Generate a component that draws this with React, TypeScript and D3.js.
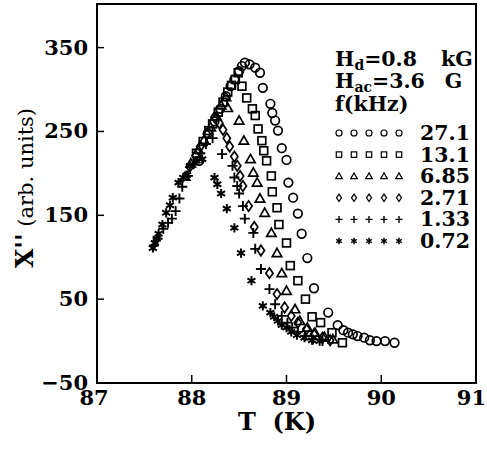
import React from "react";
import * as d3 from "d3";

const W = 487;
const H = 449;

const xTicks = [87, 88, 89, 90, 91];
const yTicks = [-50, 50, 150, 250, 350];

const freqLabels = ["27.1", "13.1", "6.85", "2.71", "1.33", "0.72"];
const markers = ["circle", "square", "triangle", "diamond", "plus", "star"];

const T271 = [88.08, 88.17, 88.24, 88.30, 88.36, 88.41, 88.45, 88.50, 88.53, 88.56, 88.61, 88.67, 88.72, 88.75, 88.83, 88.85, 88.88, 88.91, 88.95, 89.00, 89.02, 89.07, 89.12, 89.16, 89.22, 89.29, 89.44, 89.54, 89.60, 89.65, 89.70, 89.75, 89.82, 89.88, 89.95, 90.04, 90.14];
const C271 = [215, 248, 262, 277, 292, 304, 312, 322, 328, 332, 330, 326, 320, 302, 283, 272, 263, 251, 230, 216, 189, 171, 152, 128, 99, 63, 34, 19, 13, 10, 8, 6, 4, 1, 0, 0, -2];

const T131 = [88.05, 88.12, 88.18, 88.22, 88.28, 88.33, 88.38, 88.42, 88.46, 88.49, 88.53, 88.58, 88.64, 88.67, 88.70, 88.74, 88.76, 88.79, 88.84, 88.85, 88.90, 88.92, 89.00, 89.04, 89.12, 89.20, 89.27, 89.36, 89.48, 89.59];
const C131 = [224, 238, 251, 259, 273, 285, 297, 305, 312, 320, 304, 290, 277, 269, 253, 239, 227, 215, 197, 178, 159, 139, 117, 90, 72, 50, 29, 22, 10, -2];

const T685 = [87.93, 87.99, 88.07, 88.13, 88.20, 88.26, 88.31, 88.36, 88.38, 88.50, 88.55, 88.62, 88.65, 88.69, 88.72, 88.77, 88.84, 88.90, 88.95, 89.00, 89.09, 89.14, 89.22, 89.30, 89.40, 89.49];
const C685 = [196, 212, 228, 240, 255, 268, 281, 291, 278, 263, 239, 217, 201, 189, 170, 153, 129, 105, 81, 60, 38, 24, 16, 10, 5, 2];

const T271k = [87.98, 88.04, 88.09, 88.16, 88.24, 88.29, 88.33, 88.37, 88.40, 88.45, 88.48, 88.51, 88.54, 88.60, 88.66, 88.73, 88.82, 88.90, 88.98, 89.05, 89.12, 89.21, 89.29, 89.38, 89.46];
const C271k = [208, 221, 232, 247, 267, 260, 252, 242, 232, 220, 209, 197, 185, 161, 136, 108, 81, 56, 40, 30, 22, 14, 8, 4, 1];

const T133 = [87.60, 87.64, 87.70, 87.75, 87.79, 87.83, 87.87, 87.90, 87.96, 88.02, 88.09, 88.15, 88.22, 88.32, 88.43, 88.45, 88.48, 88.50, 88.54, 88.56, 88.65, 88.67, 88.73, 88.82, 88.88, 88.95, 89.01, 89.06, 89.12, 89.20, 89.28, 89.38];
const C133 = [114, 122, 134, 141, 146, 155, 170, 184, 197, 211, 224, 235, 242, 223, 209, 195, 185, 176, 161, 146, 129, 110, 86, 62, 44, 30, 22, 16, 11, 6, 2, 0];

const T072 = [87.59, 87.61, 87.63, 87.65, 87.69, 87.73, 87.77, 87.80, 87.86, 87.91, 87.95, 87.98, 88.05, 88.11, 88.24, 88.27, 88.31, 88.37, 88.45, 88.52, 88.63, 88.75, 88.83, 88.87, 88.91, 88.95, 89.00, 89.05, 89.11, 89.19, 89.27, 89.35];
const C072 = [111, 117, 122, 128, 139, 153, 162, 171, 189, 195, 198, 209, 215, 217, 195, 187, 176, 158, 135, 105, 72, 42, 34, 29, 24, 19, 16, 11, 7, 4, 1, 0];

const seriesT = [T271, T131, T685, T271k, T133, T072];
const seriesC = [C271, C131, C685, C271k, C133, C072];

const FONT = "'DejaVu Serif', 'Liberation Serif', serif";

function Marker({ kind, x, y, s = 1, sw = 1.7 }: { kind: string; x: number; y: number; s?: number; sw?: number }) {
  const common = { fill: "none", stroke: "#000", strokeWidth: sw };
  if (kind === "circle") return <circle cx={x} cy={y} r={4.3 * s} {...common} />;
  if (kind === "square") {
    const h = 3.9 * s;
    return <rect x={x - h} y={y - h} width={2 * h} height={2 * h} {...common} />;
  }
  if (kind === "triangle") {
    const a = 4.7 * s;
    const p = `M${x},${y - a}L${x + a},${y + a * 0.75}L${x - a},${y + a * 0.75}Z`;
    return <path d={p} {...common} />;
  }
  if (kind === "diamond") {
    const w = 3.6 * s, h = 5.2 * s;
    const p = `M${x},${y - h}L${x + w},${y}L${x},${y + h}L${x - w},${y}Z`;
    return <path d={p} {...common} />;
  }
  if (kind === "plus") {
    const a = 5 * s;
    return <path d={`M${x - a},${y}H${x + a}M${x},${y - a}V${y + a}`} stroke="#000" strokeWidth={sw + 0.2} />;
  }
  const a = 4.6 * s;
  const c = a * Math.cos(Math.PI / 6);
  const d = a * Math.sin(Math.PI / 6);
  return (
    <path
      d={`M${x},${y - a}V${y + a}M${x - c},${y - d}L${x + c},${y + d}M${x - c},${y + d}L${x + c},${y - d}`}
      stroke="#000"
      strokeWidth={sw + 0.3}
    />
  );
}

export default function App() {
  const x = d3.scaleLinear().domain([87, 91]).range([97, 476]);
  const y = d3.scaleLinear().domain([-50, 402]).range([383, 4]);

  return (
    <svg width={W} height={H} style={{ position: "absolute", left: 0, top: 0, background: "#fff" }} fontFamily={FONT}>
      <rect x={x(87)} y={y(402)} width={x(91) - x(87)} height={y(-50) - y(402)} fill="none" stroke="#000" strokeWidth={2} />
      {yTicks.map((t) => (
        <g key={"y" + t}>
          <line x1={x(87)} x2={x(87) + 7} y1={y(t)} y2={y(t)} stroke="#000" strokeWidth={1.5} />
          <text x={88} y={y(t) + 7} textAnchor="end" fontSize={21} fontWeight="bold">
            {t < 0 ? "\u2212" + Math.abs(t) : t}
          </text>
        </g>
      ))}
      {xTicks.map((t, i) => (
        <g key={"x" + t}>
          <line x1={x(t)} x2={x(t)} y1={y(-50)} y2={y(-50) - 8} stroke="#000" strokeWidth={1.5} />
          <text
            x={i === xTicks.length - 1 ? W - 1 : x(t) - (i === 0 ? 3 : 0)}
            y={405}
            textAnchor={i === xTicks.length - 1 ? "end" : "middle"}
            fontSize={21}
            fontWeight="bold"
          >
            {t}
          </text>
        </g>
      ))}
      <text x={277} y={430} textAnchor="middle" fontSize={24} fontWeight="bold" xmlSpace="preserve">
        T  (K)
      </text>
      <text transform="translate(33,188) rotate(-90)" textAnchor="middle">
        <tspan fontSize={25} fontWeight="bold">X''</tspan>
        <tspan fontSize={21}> (arb. units)</tspan>
      </text>

      {seriesT.map((ts, si) =>
        ts.map((t, j) => <Marker key={si + "-" + j} kind={markers[si]} x={x(t)} y={y(seriesC[si][j])} />)
      )}

      <g fontSize={20.5} fontWeight="bold">
        <text x={335} y={66}>
          H<tspan fontSize={14} dy={4}>d</tspan>
          <tspan dy={-4}>=0.8</tspan>
          <tspan dx={24}>kG</tspan>
        </text>
        <text x={335} y={88}>
          H<tspan fontSize={14} dy={4}>ac</tspan>
          <tspan dy={-4}>=3.6</tspan>
          <tspan dx={20}>G</tspan>
        </text>
        <text x={335} y={111}>f(kHz)</text>
        {freqLabels.map((lab, i) => {
          const by = 140 + i * 21.6;
          return (
            <g key={lab}>
              {[0, 1, 2, 3, 4].map((k) => (
                <Marker key={k} kind={markers[i]} x={339 + k * 15} y={by - 7} s={0.7} sw={1.2} />
              ))}
              <text x={420} y={by}>{lab}</text>
            </g>
          );
        })}
      </g>
    </svg>
  );
}
